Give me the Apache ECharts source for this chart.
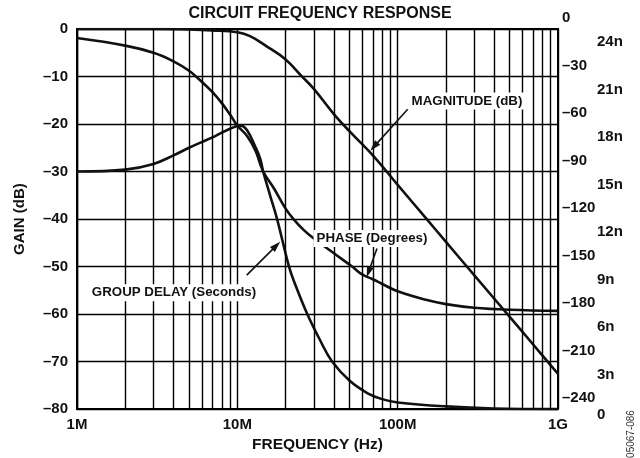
<!DOCTYPE html>
<html>
<head>
<meta charset="utf-8">
<script src="https://cdn.jsdelivr.net/npm/echarts@6/dist/echarts.min.js"></script>
<style>
  html, body { margin: 0; padding: 0; background: #fff; }
  #chart { width: 640px; height: 458px; }
</style>
</head>
<body>
<div id="chart"></div>
<script>
// ---- Curve data (frequency in MHz) ----
const magFreqMHz   = [1, 2, 3, 5, 7, 10, 12, 15, 20, 25, 30, 40, 50, 70, 100, 150, 200, 300, 500, 700, 1000];
const magnitudeDb  = [0, 0, 0, -0.1, -0.3, -0.7, -1.5, -3.5, -6.4, -9.8, -12.6, -17.9, -21.5, -26.6, -32.8, -39.8, -44.8, -51.8, -60.6, -66.4, -72.6];

const phaseFreqMHz = [1, 2, 3, 4, 5, 6, 7, 8, 9, 10, 11.5, 13, 14.5, 17, 20, 22.4, 26, 30, 40, 52, 60, 70, 80, 100, 150, 200, 300, 500, 1000];
const phaseDeg     = [-5.7, -10.5, -15, -20.4, -26.4, -33.3, -39.9, -46.8, -54, -61, -67.5, -77, -90, -101, -113.4, -120, -127, -132.3, -141.6, -150, -155, -158, -161, -165.6, -171, -173.7, -176, -177.3, -178];

const delayFreqMHz = [1, 2, 3, 4, 5, 6, 7, 8, 9, 10, 10.5, 11.5, 12.9, 13.9, 14.5, 16, 17.7, 21, 23, 27.3, 33, 39, 50, 65, 80, 100, 200, 400, 1000];
const delayNs      = [15.0, 15.12, 15.48, 16.02, 16.5, 16.86, 17.16, 17.46, 17.7, 17.88, 17.9, 17.6, 16.6, 15.8, 15.0, 13.5, 12.0, 9.0, 7.85, 6.0, 4.3, 3.0, 1.8, 1.0, 0.63, 0.42, 0.17, 0.04, 0];

// ---- Axis tick labels ----
const freqTickLabels = { 1e6: '1M', 1e7: '10M', 1e8: '100M', 1e9: '1G' };
const decadeStarts = [1e6, 1e7, 1e8];

// ---- Annotation arrows: [start, end] in (Hz, dB) on the gain axis ----
const arrowMagnitude = [[115.5e6, -16.9], [71.2e6, -24.75]];
const arrowPhase     = [[74.3e6, -46.2], [65.8e6, -51.15]];
const arrowDelay     = [[11.45e6, -51.8], [17.5e6, -45.6]];

const FONT = '"Liberation Sans", Arial, Helvetica, sans-serif';
const INK = '#111';

const toPairs = (fs, vs) => fs.map((f, i) => [f * 1e6, vs[i]]);
const dash = v => String(v).replace('-', '\u2013');

// minor (2..9) vertical gridlines of each decade
const minorLines = [];
decadeStarts.forEach(d => { for (let k = 2; k <= 9; k++) minorLines.push({ xAxis: k * d }); });

const curveStyle = { color: INK, width: 2.6 };
const noteFont = 'bold 13.3px ' + FONT;

const chart = echarts.init(document.getElementById('chart'), null, { renderer: 'canvas' });
chart.setOption({
  animation: false,
  backgroundColor: '#fff',
  title: {
    text: 'CIRCUIT FREQUENCY RESPONSE',
    left: 'center', top: 6, padding: 0,
    textStyle: { fontFamily: FONT, fontWeight: 'bold', fontSize: 16, color: INK }
  },
  grid: { left: 77, right: 82, top: 29, bottom: 46, show: true, borderColor: '#000', borderWidth: 2, backgroundColor: 'transparent' },
  xAxis: {
    type: 'log', logBase: 10, min: 1e6, max: 1e9,
    name: 'FREQUENCY (Hz)', nameLocation: 'middle', nameGap: 27,
    nameTextStyle: { fontFamily: FONT, fontWeight: 'bold', fontSize: 15.5, color: INK },
    axisLine: { show: true, lineStyle: { color: '#000', width: 2 } },
    axisTick: { show: false },
    axisLabel: {
      fontFamily: FONT, fontWeight: 'bold', fontSize: 15, color: INK, margin: 8,
      formatter: v => freqTickLabels[Math.round(v)] || ''
    },
    splitLine: { show: true, lineStyle: { color: '#000', width: 1.4 } }
  },
  yAxis: [
    {
      type: 'value', min: -80, max: 0, interval: 10, position: 'left',
      name: 'GAIN (dB)', nameLocation: 'middle', nameGap: 50, nameRotate: 90,
      nameTextStyle: { fontFamily: FONT, fontWeight: 'bold', fontSize: 15, color: INK },
      axisLine: { show: true, lineStyle: { color: '#000', width: 2 } },
      axisTick: { show: false },
      axisLabel: { fontFamily: FONT, fontWeight: 'bold', fontSize: 15, color: INK, margin: 9, formatter: dash },
      splitLine: { show: true, lineStyle: { color: '#000', width: 1.4 } }
    },
    {
      type: 'value', min: -240, max: 0, interval: 30, position: 'right',
      axisLine: { show: false }, axisTick: { show: false }, splitLine: { show: false },
      axisLabel: {
        margin: 4, verticalAlign: 'middle', align: 'left',
        formatter: v => '{p|' + dash(v) + '}',
        rich: { p: { fontFamily: FONT, fontWeight: 'bold', fontSize: 15, color: INK, padding: [0, 0, 22, 0] } }
      }
    },
    {
      type: 'value', min: 0, max: 24, interval: 3, position: 'right', offset: 35,
      axisLine: { show: false }, axisTick: { show: false }, splitLine: { show: false },
      axisLabel: {
        margin: 4, verticalAlign: 'middle', align: 'left',
        formatter: v => v === 0 ? '{z|0}' : '{a|' + v + 'n}',
        rich: {
          a: { fontFamily: FONT, fontWeight: 'bold', fontSize: 15, color: INK, padding: [26, 0, 0, 0] },
          z: { fontFamily: FONT, fontWeight: 'bold', fontSize: 15, color: INK, padding: [12, 0, 0, 0] }
        }
      }
    }
  ],
  graphic: [
    { type: 'text', x: 467, y: 101, z: 50,
      style: { text: 'MAGNITUDE (dB)', align: 'center', verticalAlign: 'middle', font: noteFont, fill: INK, backgroundColor: '#fff', padding: [2, 3] } },
    { type: 'text', x: 372, y: 238.5, z: 50,
      style: { text: 'PHASE (Degrees)', align: 'center', verticalAlign: 'middle', font: noteFont, fill: INK, backgroundColor: '#fff', padding: [2, 3] } },
    { type: 'text', x: 174, y: 292.7, z: 50,
      style: { text: 'GROUP DELAY (Seconds)', align: 'center', verticalAlign: 'middle', font: noteFont, fill: INK, backgroundColor: '#fff', padding: [2, 3] } },
    { type: 'text', x: 631, y: 434, rotation: Math.PI / 2, z: 50,
      style: { text: '05067-086', align: 'center', verticalAlign: 'middle', font: '10px ' + FONT, fill: '#333' } }
  ],
  series: [
    {
      name: 'grid-minor', type: 'line', data: [], z: 1, silent: true,
      markLine: {
        silent: true, symbol: ['none', 'none'], label: { show: false }, animation: false,
        lineStyle: { color: '#000', width: 1.4, type: 'solid' },
        data: minorLines
      }
    },
    {
      name: 'MAGNITUDE (dB)', type: 'line', yAxisIndex: 0, z: 3,
      data: toPairs(magFreqMHz, magnitudeDb),
      smooth: 0.4, showSymbol: false, lineStyle: curveStyle
    },
    {
      name: 'PHASE (Degrees)', type: 'line', yAxisIndex: 1, z: 3,
      data: toPairs(phaseFreqMHz, phaseDeg),
      smooth: 0.4, showSymbol: false, lineStyle: curveStyle
    },
    {
      name: 'GROUP DELAY (Seconds)', type: 'line', yAxisIndex: 2, z: 3,
      data: toPairs(delayFreqMHz, delayNs),
      smooth: 0.4, showSymbol: false, lineStyle: curveStyle
    },
    {
      name: 'arrows', type: 'line', data: [], yAxisIndex: 0, z: 60, silent: true,
      markLine: {
        silent: true, animation: false, z: 60,
        symbol: ['none', 'triangle'], symbolSize: [7, 11],
        label: { show: false },
        lineStyle: { color: INK, width: 1.6, type: 'solid' },
        itemStyle: { color: INK },
        data: [arrowMagnitude, arrowPhase, arrowDelay].map(a => [{ coord: a[0] }, { coord: a[1] }])
      }
    }
  ]
});
</script>
</body>
</html>
